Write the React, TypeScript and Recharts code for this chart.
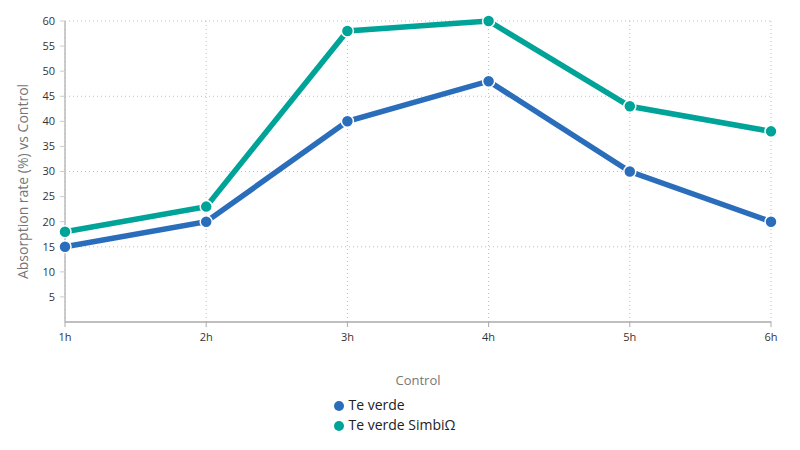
import { LineChart, Line, XAxis, YAxis, CartesianGrid, Legend } from 'recharts';

const hours = ['1h', '2h', '3h', '4h', '5h', '6h'];
const teVerde = [15, 20, 40, 48, 30, 20];
const teVerdeSimbi = [18, 23, 58, 60, 43, 38];
const yTicks = [5, 10, 15, 20, 25, 30, 35, 40, 45, 50, 55, 60];
const gridValues = [15, 30, 45, 60];

const BLUE = '#2a6ebb';
const TEAL = '#00a398';
const FONT = '"Open Sans", sans-serif';

const data = hours.map((h, i) => ({
  hour: h,
  verde: teVerde[i],
  simbi: teVerdeSimbi[i],
}));

// eslint-disable-next-line @typescript-eslint/no-explicit-any
const renderYLabel = (props: any) => {
  const { viewBox } = props;
  const x = 14;
  const y = viewBox.y + viewBox.height / 2 + 10;
  return (
    <text
      x={x}
      y={y}
      transform={`rotate(-90, ${x}, ${y})`}
      textAnchor="middle"
      dominantBaseline="central"
      fill="#777"
      fontSize={14}
      fontFamily={FONT}
    >
      Absorption rate (%) vs Control
    </text>
  );
};

export default function App() {
  return (
    <div style={{ fontFamily: FONT }}>
      <LineChart
        width={784}
        height={434}
        data={data}
        margin={{ top: 13, right: 21, bottom: 7, left: 0 }}
      >
        <CartesianGrid
          stroke="#bdbdbd"
          strokeDasharray="1 3"
          horizontalValues={gridValues}
        />
        <XAxis
          dataKey="hour"
          height={73}
          tickSize={5}
          tickMargin={6}
          axisLine={{ stroke: '#aaa', strokeWidth: 1.5 }}
          tickLine={{ stroke: '#aaa' }}
          tick={{ fill: '#333', fontSize: 11, fontFamily: FONT }}
          label={{
            value: 'Control',
            position: 'insideBottom',
            offset: 10,
            fill: '#777',
            fontSize: 13,
            fontFamily: FONT,
          }}
        />
        <YAxis
          width={57}
          domain={[0, 60]}
          ticks={yTicks}
          interval={0}
          tickSize={5}
          tickMargin={5}
          axisLine={{ stroke: '#bbb', strokeWidth: 1.5 }}
          tickLine={{ stroke: '#ccc' }}
          tick={{ fill: '#333', fontSize: 11, fontFamily: FONT }}
          label={renderYLabel}
        />
        <Legend
          layout="vertical"
          align="center"
          verticalAlign="bottom"
          iconType="circle"
          iconSize={10}
          wrapperStyle={{ fontSize: 14, lineHeight: '20px', fontFamily: FONT }}
          formatter={(value) => <span style={{ color: '#222' }}>{value}</span>}
        />
        <Line
          dataKey="verde"
          name="Te verde"
          stroke={BLUE}
          strokeWidth={5.5}
          dot={{ r: 6, fill: BLUE, stroke: '#fff', strokeWidth: 1.5 }}
          isAnimationActive={false}
        />
        <Line
          dataKey="simbi"
          name="Te verde SimbiΩ"
          stroke={TEAL}
          strokeWidth={5.5}
          dot={{ r: 6, fill: TEAL, stroke: '#fff', strokeWidth: 1.5 }}
          isAnimationActive={false}
        />
      </LineChart>
    </div>
  );
}
